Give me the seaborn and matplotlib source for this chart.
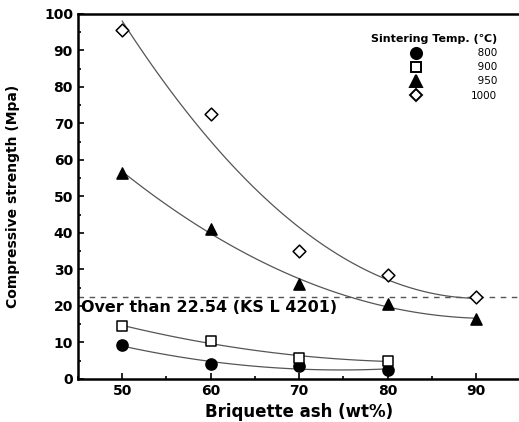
import numpy as np
import pandas as pd
import matplotlib
matplotlib.use("Agg")
import matplotlib.pyplot as plt
import seaborn as sns
from matplotlib.lines import Line2D
from matplotlib.ticker import MultipleLocator

sns.set_style("ticks")
plt.rcParams['font.family'] = ['DejaVu Sans']
plt.rcParams.update({"text.color": "black", "axes.labelcolor": "black",
                     "xtick.color": "black", "ytick.color": "black",
                     "axes.edgecolor": "black"})

ash_a = [50, 60, 70, 80]
ash_b = [50, 60, 70, 80, 90]
s800 = [9.3, 4.0, 3.5, 2.5]
s900 = [14.5, 10.3, 5.8, 5.0]
s950 = [56.5, 41.0, 26.0, 20.5, 16.5]
s1000 = [95.5, 72.5, 35.0, 28.5, 22.5]
labels = ["\u2007800", "\u2007900", "\u2007950", "1000"]
ks_limit = 22.54

fig = plt.figure(figsize=(5.19, 4.22), dpi=100)
ax = fig.add_axes([0.150, 0.102, 0.853, 0.865])

series = [
    (ash_a, s800, "o", "black", 8.0),
    (ash_a, s900, "s", "white", 7.5),
    (ash_b, s950, "^", "black", 8.0),
    (ash_b, s1000, "D", "white", 6.5),
]
handles = []
for (xs, ys, m, fc, ms), lab in zip(series, labels):
    df = pd.DataFrame({"x": xs, "y": ys})
    sns.regplot(data=df, x="x", y="y", order=2, ci=None, ax=ax,
                marker=m, truncate=True,
                scatter_kws=dict(s=ms**2, facecolors=fc, alpha=1,
                                 edgecolors="black", linewidths=1.1, zorder=3),
                line_kws=dict(color="#555555", lw=0.9, zorder=2))
    handles.append(Line2D([], [], marker=m, linestyle="none", markersize=ms,
                          markerfacecolor=fc, markeredgecolor="black",
                          markeredgewidth=1.4, label=lab))

ax.axhline(ks_limit, color="#555555", lw=1.0, ls=(0, (4, 4)), zorder=1)
ax.text(45.4, ks_limit - 0.8, "Over than 22.54 (KS L 4201)", fontsize=11.5,
        fontweight="bold", va="top", ha="left")

ax.set_xlim(45, 95)
ax.set_ylim(0, 100)
ax.set_xticks([50, 60, 70, 80, 90])
ax.xaxis.set_minor_locator(MultipleLocator(5))
ax.yaxis.set_major_locator(MultipleLocator(10))
ax.yaxis.set_minor_locator(MultipleLocator(5))
ax.tick_params(which="both", direction="in", width=1.2)
ax.tick_params(which="major", length=4, labelsize=10)
ax.tick_params(which="minor", length=2)
for t in ax.get_xticklabels() + ax.get_yticklabels():
    t.set_fontweight("bold")
for s in ["left", "bottom", "top"]:
    ax.spines[s].set_linewidth(1.8)
ax.spines["right"].set_visible(False)

ax.set_xlabel("Briquette ash (wt%)", fontsize=12, fontweight="bold", labelpad=4)
ax.set_ylabel("Compressive strength (Mpa)", fontsize=10, fontweight="bold", labelpad=17)

leg = ax.legend(handles=handles, title="Sintering Temp. (\u2103)", frameon=False,
                loc="upper right", bbox_to_anchor=(0.964, 0.965), fontsize=7.5,
                title_fontsize=8, handletextpad=4.8, labelspacing=0.4,
                borderpad=0.2, handlelength=1.0, alignment="right")
leg.get_title().set_fontweight("bold")

fig.savefig("out.png", dpi=100)
